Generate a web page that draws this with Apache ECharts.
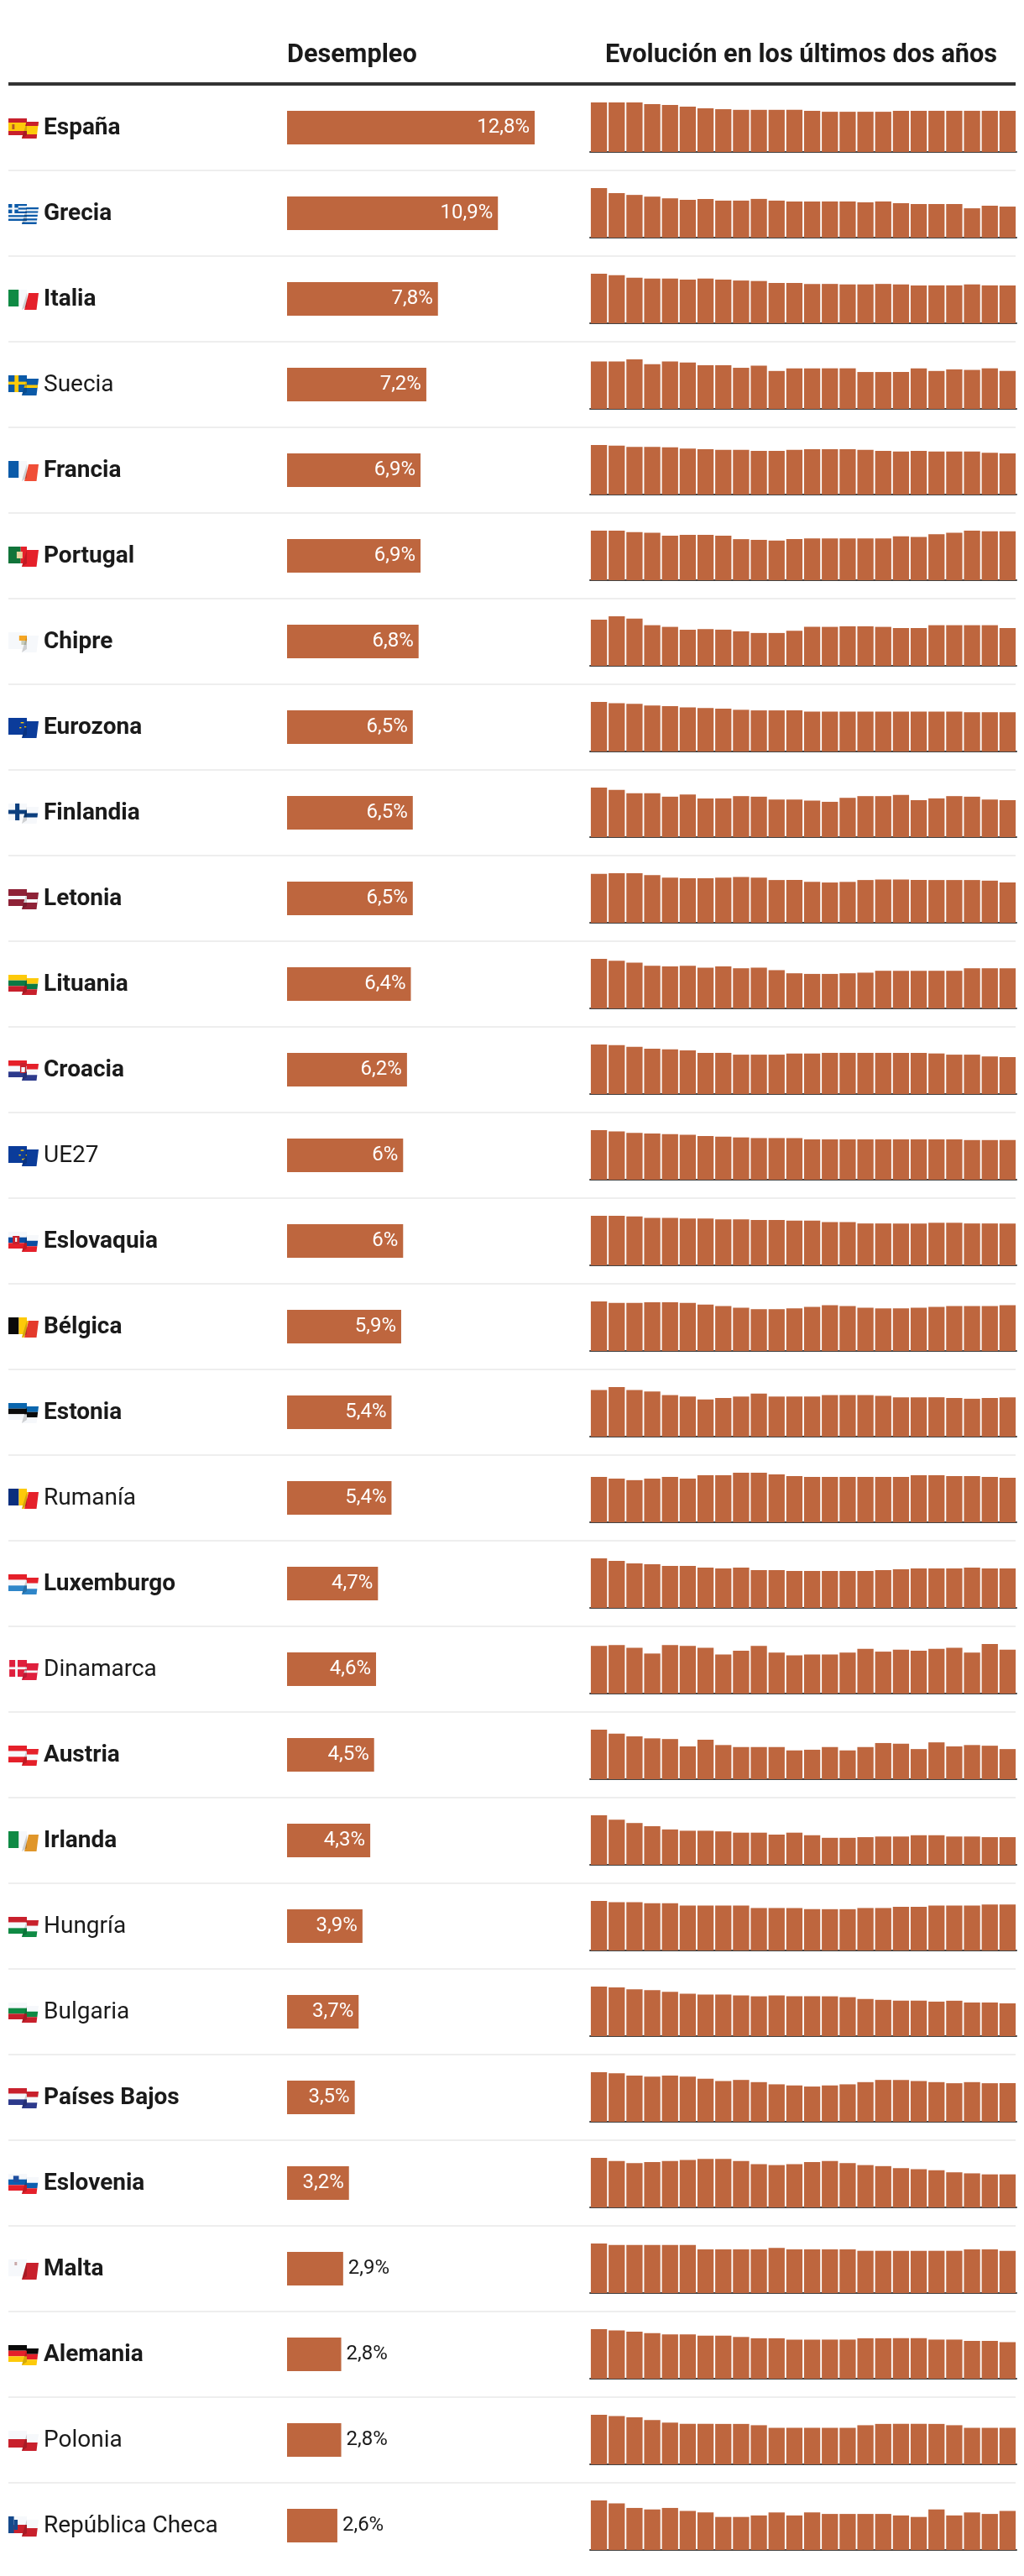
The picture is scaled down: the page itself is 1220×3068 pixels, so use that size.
<!DOCTYPE html>
<html lang="es">
<head>
<meta charset="utf-8">
<title>Desempleo en la UE</title>
<script src="https://cdn.jsdelivr.net/npm/echarts@6/dist/echarts.min.js"></script>
<style>html,body{margin:0;padding:0;background:#fff}#c{width:1220px;height:3068px}</style>
</head>
<body>
<div id="c"></div>
<script>
const countries = ["España","Grecia","Italia","Suecia","Francia","Portugal","Chipre","Eurozona","Finlandia","Letonia","Lituania","Croacia","UE27","Eslovaquia","Bélgica","Estonia","Rumanía","Luxemburgo","Dinamarca","Austria","Irlanda","Hungría","Bulgaria","Países Bajos","Eslovenia","Malta","Alemania","Polonia","República Checa"];
const regularNames = ["Suecia","UE27","Rumanía","Dinamarca","Hungría","Bulgaria","Polonia","República Checa"];
const latest = [12.8,10.9,7.8,7.2,6.9,6.9,6.8,6.5,6.5,6.5,6.4,6.2,6,6,5.9,5.4,5.4,4.7,4.6,4.5,4.3,3.9,3.7,3.5,3.2,2.9,2.8,2.8,2.6];
const months = ["m01","m02","m03","m04","m05","m06","m07","m08","m09","m10","m11","m12","m13","m14","m15","m16","m17","m18","m19","m20","m21","m22","m23","m24"];

const espana = [15.4,15.4,15.4,14.9,14.6,14.1,13.6,13.3,13.1,13.1,13.1,13.1,12.8,12.5,12.5,12.5,12.5,12.8,12.8,12.8,12.8,12.8,12.8,12.8];
const grecia = [17.4,15.6,15.0,14.4,13.8,13.3,13.6,13.0,13.0,13.6,13.0,12.7,12.7,12.7,12.7,12.4,12.7,12.1,11.8,11.8,11.8,10.3,11.2,10.9];
const italia = [10.2,9.9,9.4,9.2,9.2,9.0,9.2,9.0,8.8,8.7,8.3,8.3,8.1,8.1,8.0,8.0,8.1,8.0,7.8,7.8,7.8,8.0,7.8,7.8];
const suecia = [9.0,9.0,9.4,8.5,9.0,8.8,8.3,8.3,7.8,8.2,7.2,7.7,7.7,7.7,7.7,7.0,7.0,7.0,7.7,7.2,7.5,7.4,7.7,7.2];
const francia = [8.3,8.2,8.0,8.0,7.9,7.7,7.6,7.5,7.5,7.3,7.3,7.5,7.6,7.6,7.6,7.5,7.3,7.2,7.3,7.2,7.2,7.2,7.0,6.9];
const portugal = [7.0,7.0,6.8,6.7,6.3,6.4,6.4,6.3,5.8,5.7,5.6,5.8,5.9,5.9,5.9,5.9,5.9,6.2,6.1,6.5,6.7,7.0,6.9,6.9];
const chipre = [8.3,8.9,8.5,7.3,7.0,6.5,6.6,6.5,6.2,5.9,5.9,6.3,7.0,7.0,7.1,7.1,7.0,6.8,6.8,7.3,7.3,7.3,7.3,6.8];
const eurozona = [8.2,8.0,7.9,7.6,7.5,7.3,7.2,7.1,6.9,6.8,6.8,6.8,6.6,6.6,6.6,6.6,6.6,6.6,6.6,6.6,6.6,6.5,6.5,6.5];
const finlandia = [8.7,8.3,7.7,7.7,7.1,7.5,6.8,6.8,7.2,7.1,6.6,6.6,6.4,6.2,6.9,7.2,7.2,7.4,6.5,6.8,7.2,7.1,6.6,6.5];
const letonia = [7.9,8.0,8.0,7.7,7.3,7.2,7.2,7.3,7.4,7.3,6.9,6.9,6.6,6.5,6.6,6.9,7.0,7.0,6.9,6.9,6.9,6.9,6.8,6.5];
const lituania = [7.9,7.6,7.3,6.8,6.7,6.8,6.5,6.7,6.4,6.5,6.1,5.6,5.5,5.5,5.6,5.7,6.0,6.0,6.0,6.0,6.0,6.4,6.4,6.4];
const croacia = [8.3,8.2,7.9,7.6,7.5,7.3,6.9,6.9,6.6,6.6,6.6,6.8,6.8,6.9,6.9,6.9,6.9,6.9,6.9,6.8,6.6,6.6,6.3,6.2];
const ue27 = [7.5,7.3,7.1,7.0,6.9,6.8,6.6,6.5,6.4,6.3,6.3,6.3,6.1,6.1,6.1,6.1,6.1,6.1,6.1,6.1,6.1,6.0,6.0,6.0];
const eslovaquia = [7.1,7.1,7.0,6.8,6.8,6.7,6.7,6.6,6.6,6.5,6.5,6.4,6.4,6.2,6.2,6.0,6.0,6.0,6.0,6.1,6.1,6.0,6.0,6.0];
const belgica = [6.4,6.2,6.2,6.3,6.3,6.2,6.0,5.8,5.6,5.4,5.4,5.5,5.7,5.9,5.8,5.6,5.5,5.5,5.6,5.7,5.8,5.8,5.8,5.9];
const estonia = [6.4,6.8,6.4,6.2,5.7,5.5,5.1,5.3,5.5,5.9,5.5,5.5,5.5,5.7,5.7,5.7,5.6,5.4,5.4,5.4,5.3,5.2,5.3,5.4];
const rumania = [5.5,5.3,5.1,5.3,5.5,5.3,5.7,5.7,6.0,6.0,5.8,5.6,5.5,5.5,5.5,5.5,5.5,5.5,5.7,5.7,5.6,5.6,5.5,5.4];
const luxemburgo = [5.9,5.6,5.3,5.2,5.0,5.0,4.8,4.7,4.8,4.5,4.5,4.4,4.4,4.4,4.4,4.4,4.5,4.6,4.7,4.7,4.7,4.8,4.7,4.7];
const dinamarca = [5.0,5.1,4.8,4.2,5.1,5.0,4.8,4.1,4.5,5.0,4.3,4.0,4.1,4.1,4.3,4.7,4.4,4.6,4.5,4.7,4.8,4.3,5.2,4.6];
const austria = [7.4,6.8,6.4,6.1,6.0,4.9,5.9,5.1,4.8,4.8,4.8,4.3,4.4,4.8,4.3,4.8,5.4,5.3,4.5,5.5,4.9,5.1,5.0,4.5];
const irlanda = [7.7,7.0,6.5,6.0,5.5,5.3,5.3,5.2,5.0,5.0,4.7,5.0,4.6,4.2,4.2,4.3,4.4,4.4,4.6,4.6,4.4,4.4,4.3,4.3];
const hungria = [4.2,4.1,4.1,4.0,4.0,3.8,3.8,3.8,3.8,3.6,3.6,3.6,3.5,3.5,3.5,3.6,3.6,3.7,3.7,3.8,3.8,3.8,3.9,3.9];
const bulgaria = [5.6,5.5,5.3,5.2,5.0,4.8,4.7,4.7,4.6,4.5,4.6,4.5,4.5,4.5,4.4,4.2,4.1,4.0,4.0,3.9,4.0,3.8,3.8,3.7];
const paisesBajos = [4.5,4.4,4.2,4.1,4.2,4.1,3.9,3.7,3.8,3.6,3.4,3.3,3.2,3.3,3.4,3.6,3.8,3.8,3.7,3.6,3.5,3.6,3.5,3.5];
const eslovenia = [4.8,4.5,4.3,4.4,4.5,4.6,4.7,4.7,4.5,4.2,4.1,4.2,4.4,4.5,4.3,4.1,4.0,3.8,3.7,3.6,3.4,3.3,3.2,3.2];
const malta = [3.4,3.3,3.3,3.3,3.3,3.3,3.0,3.0,3.0,3.0,3.1,3.0,3.0,3.0,3.0,2.9,2.9,2.9,2.9,2.9,2.9,3.0,3.0,2.9];
const alemania = [3.8,3.7,3.6,3.5,3.4,3.4,3.3,3.3,3.2,3.1,3.1,3.0,3.0,3.0,3.0,3.1,3.1,3.1,3.1,3.0,3.0,2.9,2.9,2.8];
const polonia = [3.8,3.7,3.6,3.4,3.2,3.1,3.1,3.1,3.1,3.0,2.8,2.8,2.8,2.8,2.8,3.0,3.1,3.1,3.1,3.1,3.0,2.8,2.8,2.8];
const checa = [3.3,3.1,2.8,2.7,2.8,2.6,2.5,2.2,2.2,2.3,2.5,2.3,2.5,2.4,2.4,2.4,2.4,2.3,2.2,2.7,2.3,2.5,2.4,2.6];
const history = [espana,grecia,italia,suecia,francia,portugal,chipre,eurozona,finlandia,letonia,lituania,croacia,ue27,eslovaquia,belgica,estonia,rumania,luxemburgo,dinamarca,austria,irlanda,hungria,bulgaria,paisesBajos,eslovenia,malta,alemania,polonia,checa];

// Flag designs: stripe lists [u0,u1,v0,v1,colour] on a unit flag
const W='#f6f8fb', R='#e5202a', DR='#c8202c', BL='#0b5aa8', G='#0f8a44', Y='#fdca0a', K='#0a0a0a', NV='#2d3a8c';
const h3=(a,b,c)=>[[0,1,0,1/3,a],[0,1,1/3,2/3,b],[0,1,2/3,1,c]];
const v3=(a,b,c)=>[[0,.34,0,1,a],[.34,.67,0,1,b],[.67,1,0,1,c]];
const flagDesigns = {
 "España":[[0,1,0,1,Y],[0,1,0,.25,DR],[0,1,.75,1,DR],[.12,.2,.35,.65,'#b5552a']],
 "Grecia":[[0,1,0,1,W],[0,1,0,.11,BL],[0,1,.22,.33,BL],[0,1,.44,.55,BL],[0,1,.66,.77,BL],[0,1,.88,1,BL],[0,.32,0,.55,BL],[.12,.2,0,.55,W],[0,.32,.22,.33,W]],
 "Italia":v3(G,W,R),
 "Suecia":[[0,1,0,1,BL],[.2,.33,0,1,Y],[0,1,.38,.55,Y]],
 "Francia":v3(BL,W,'#f04e37'),
 "Portugal":[[0,.4,0,1,'#11743a'],[.4,1,0,1,R],[.27,.46,.3,.7,'#e8d5a0']],
 "Chipre":[[0,1,0,1,W],[.35,.65,.2,.5,'#f5a623'],[.42,.58,.5,.75,'#c9cdbb']],
 "Eurozona":[[0,1,0,1,'#0b3c9a'],[.4,.5,.25,.32,Y],[.36,.42,.55,.62,Y],[.52,.58,.5,.57,Y]],
 "Finlandia":[[0,1,0,1,W],[.22,.36,0,1,'#0c3f7e'],[0,1,.38,.62,'#0c3f7e']],
 "Letonia":[[0,1,0,1,'#8e2237'],[0,1,.4,.6,W]],
 "Lituania":h3(Y,'#0b7a45',DR),
 "Croacia":[...h3(R,W,NV),[.38,.58,.15,.75,DR],[.42,.54,.4,.7,W]],
 "UE27":[[0,1,0,1,'#0b3c9a'],[.4,.5,.22,.29,Y],[.34,.4,.5,.57,Y],[.56,.62,.5,.57,Y],[.44,.5,.75,.82,Y]],
 "Eslovaquia":[...h3(W,'#0b4ea2',R),[.14,.36,.25,.75,DR],[.22,.28,.35,.6,W]],
 "Bélgica":v3(K,Y,'#e43a2b'),
 "Estonia":h3('#0a66ae',K,W),
 "Rumanía":v3('#0b2f7e',Y,R),
 "Luxemburgo":h3(R,W,'#2f86c9'),
 "Dinamarca":[[.03,1,0,1,'#df1f3d'],[.22,.3,0,1,W],[.03,1,.42,.56,W]],
 "Austria":h3(R,W,R),
 "Irlanda":v3(G,W,'#e0962a'),
 "Hungría":h3(DR,W,G),
 "Bulgaria":h3(W,G,DR),
 "Países Bajos":h3(DR,W,NV),
 "Eslovenia":[...h3(W,'#0b5fb0',R),[.16,.34,.12,.5,'#1f4f9f']],
 "Malta":[[0,.6,0,1,W],[.6,1,0,1,DR],[.2,.28,.15,.35,'#c9a9a9']],
 "Alemania":h3(K,R,Y),
 "Polonia":[[0,1,0,.5,W],[0,1,.5,1,DR]],
 "República Checa":[[0,1,0,.5,W],[0,1,.5,1,DR],[0,.18,0,1,'#164a8c'],[.18,.3,.2,.8,'#164a8c']]
};

const RUST='#BE663E', INK='#1a1a1a', ROW=102, FONT='Roboto, sans-serif';
const top0=101;
const fmt=v=>String(v).replace('.',',')+'%';

function flagPieces(design, y){
  const out=[];
  const map=(panel,u,v)=>{
    if(panel===0) return [10+u/.6*22, y+40+v*20];
    const t=(u-.6)/.4, x0=31.5-5.5*v, x1=46-2.5*v;
    return [x0+t*(x1-x0), y+44+v*20];
  };
  design.forEach(([u0,u1,v0,v1,c])=>{
    [[0,0,.6],[1,.6,1]].forEach(([p,a,b])=>{
      const s=Math.max(u0,a), e=Math.min(u1,b);
      if(e<=s) return;
      out.push({type:'polygon',silent:true,z:5,
        shape:{points:[map(p,s,v0),map(p,e,v0),map(p,e,v1),map(p,s,v1)]},
        style:{fill:c}});
    });
  });
  out.push({type:'polygon',silent:true,z:6,
    shape:{points:[[32,y+44],[32,y+60],[26,y+64],[27,y+60]]},
    style:{fill:'rgba(0,0,0,0.16)'}});
  return out;
}

const grids=[{left:342,width:295,top:top0,height:ROW*countries.length}];
const xAxes=[{gridIndex:0,type:'value',min:0,max:12.8,show:false}];
const yAxes=[{gridIndex:0,type:'category',inverse:true,data:countries,
  axisLine:{show:false},axisTick:{show:false},
  axisLabel:{show:true,interval:0,align:'left',margin:290,padding:[2,0,0,0],
    formatter:n=>regularNames.includes(n)?`{r|${n}}`:`{b|${n}}`,
    rich:{r:{fontFamily:FONT,fontSize:28,fontWeight:400,color:INK},
          b:{fontFamily:FONT,fontSize:28,fontWeight:700,color:INK}}}}];
const series=[{type:'bar',xAxisIndex:0,yAxisIndex:0,barWidth:40,silent:true,
  data:latest.map(v=>({value:v,
    itemStyle:{color:RUST},
    label:v>=3?{show:true,position:'insideRight',distance:6,color:'#fff',fontFamily:FONT,fontSize:24,formatter:fmt(v)}
              :{show:true,position:'right',distance:6,color:INK,fontFamily:FONT,fontSize:24,formatter:fmt(v)}}))}];
const graphic=[
  {type:'rect',silent:true,shape:{x:10,y:98,width:1200,height:4},style:{fill:'#333333'}},
  {type:'text',silent:true,style:{x:342,y:66,text:'Desempleo',fill:INK,font:'700 30.7px '+FONT,verticalAlign:'middle'}},
  {type:'text',silent:true,style:{x:721,y:66,text:'Evolución en los últimos dos años',fill:INK,font:'700 30.7px '+FONT,verticalAlign:'middle'}}
];

countries.forEach((name,i)=>{
  const y=top0+ROW*i;
  grids.push({left:703,width:508,top:y+21,height:59});
  xAxes.push({gridIndex:i+1,type:'category',data:months,offset:1,
    axisLine:{show:true,lineStyle:{color:'#444444',width:2}},axisTick:{show:false},axisLabel:{show:false}});
  yAxes.push({gridIndex:i+1,type:'value',min:0,max:'dataMax',show:false,splitLine:{show:false}});
  series.push({type:'bar',xAxisIndex:i+1,yAxisIndex:i+1,barWidth:19.3,silent:true,
    itemStyle:{color:RUST},data:history[i]});
  graphic.push(...flagPieces(flagDesigns[name],y));
  if(i<countries.length-1)
    graphic.push({type:'rect',silent:true,shape:{x:10,y:y+ROW-1,width:1200,height:2},style:{fill:'#eeeeee'}});
});

const chart=echarts.init(document.getElementById('c'),null,{renderer:'canvas'});
chart.setOption({animation:false,backgroundColor:'#fff',tooltip:{show:false},grid:grids,xAxis:xAxes,yAxis:yAxes,series,graphic});
</script>
</body>
</html>
